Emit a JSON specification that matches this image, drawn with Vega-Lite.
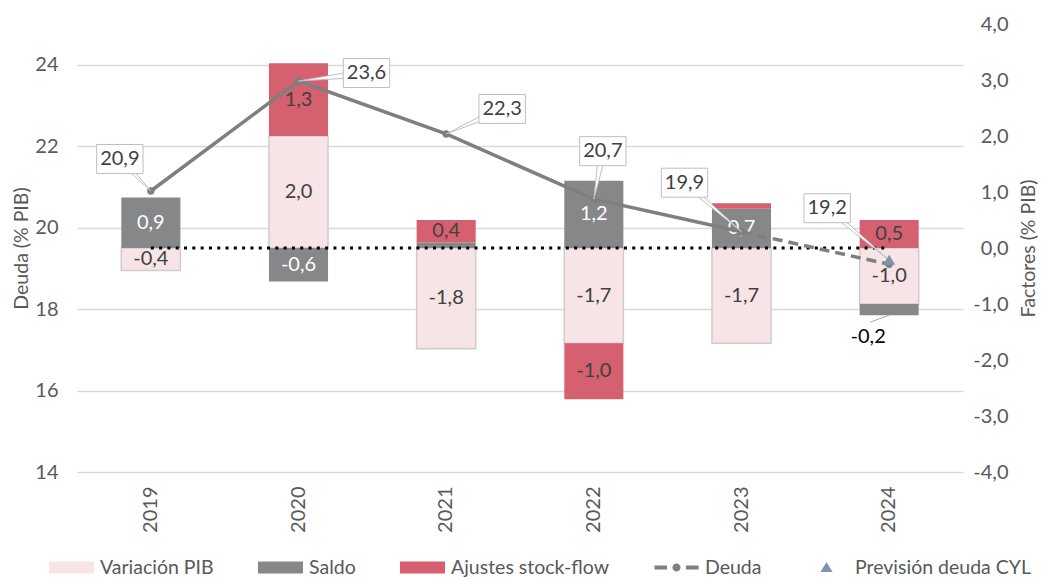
{
  "$schema": "https://vega.github.io/schema/vega-lite/v6.json",
  "width": 886,
  "height": 448,
  "autosize": "none",
  "padding": {"left": 77, "top": 24, "right": 81, "bottom": 105},
  "config": {
    "view": {"stroke": null},
    "font": "Lato",
    "axis": {"labelFont": "Lato", "labelFontSize": 20, "labelColor": "#595959", "titleFont": "Lato", "titleFontSize": 19.5, "titleFontWeight": "normal", "titleColor": "#595959", "domain": false, "ticks": false, "gridColor": "#d9d9d9", "gridWidth": 1.5},
    "legend": {"labelFont": "Lato", "labelFontSize": 19.5, "labelColor": "#595959"}
  },
  "datasets": {
    "factores": [
      {"anio": "2019", "serie": "Variación PIB", "valor": -0.4},
      {"anio": "2019", "serie": "Saldo", "valor": 0.9},
      {"anio": "2020", "serie": "Variación PIB", "valor": 2.0},
      {"anio": "2020", "serie": "Saldo", "valor": -0.6},
      {"anio": "2020", "serie": "Ajustes stock-flow", "valor": 1.3},
      {"anio": "2021", "serie": "Variación PIB", "valor": -1.8},
      {"anio": "2021", "serie": "Saldo", "valor": 0.1},
      {"anio": "2021", "serie": "Ajustes stock-flow", "valor": 0.4},
      {"anio": "2022", "serie": "Variación PIB", "valor": -1.7},
      {"anio": "2022", "serie": "Saldo", "valor": 1.2},
      {"anio": "2022", "serie": "Ajustes stock-flow", "valor": -1.0},
      {"anio": "2023", "serie": "Variación PIB", "valor": -1.7},
      {"anio": "2023", "serie": "Saldo", "valor": 0.7},
      {"anio": "2023", "serie": "Ajustes stock-flow", "valor": 0.1},
      {"anio": "2024", "serie": "Variación PIB", "valor": -1.0},
      {"anio": "2024", "serie": "Saldo", "valor": -0.2},
      {"anio": "2024", "serie": "Ajustes stock-flow", "valor": 0.5}
    ],
    "deuda": [
      {"anio": "2019", "deuda": 20.9},
      {"anio": "2020", "deuda": 23.6},
      {"anio": "2021", "deuda": 22.3},
      {"anio": "2022", "deuda": 20.7},
      {"anio": "2023", "deuda": 19.9},
      {"anio": "2024", "deuda": 19.1}
    ],
    "prevision": [
      {"anio": "2024", "serie": "Previsión deuda CYL", "deuda": 19.2}
    ],
    "cero": [
      {"anio": "2019", "cero": 0},
      {"anio": "2024", "cero": 0}
    ]
  },
  "encoding": {
    "x": {"field": "anio", "type": "ordinal", "scale": {"paddingInner": 0.6, "paddingOuter": 0.3}, "axis": {"title": null, "labelAngle": 270, "labelPadding": 14, "grid": false}}
  },
  "layer": [
    {
      "data": {"name": "factores"},
      "transform": [
        {"stack": "valor", "groupby": ["anio"], "sort": [{"field": "serie", "order": "descending"}], "as": ["v0", "v1"], "offset": "zero"},
        {"calculate": "(datum.v0 + datum.v1) / 2", "as": "medio"},
        {"calculate": "replace(replace(format(datum.valor, '.1f'), '.', ','), '\u2212', '-')", "as": "etiqueta"}
      ],
      "layer": [
        {
          "mark": {"type": "bar", "strokeWidth": 1.5},
          "encoding": {
            "y": {"field": "v0", "type": "quantitative", "scale": {"domain": [-4, 4], "nice": false, "zero": false},
              "axis": {"orient": "right", "values": [-4, -3, -2, -1, 0, 1, 2, 3, 4], "labelExpr": "replace(replace(format(datum.value, '.1f'), '.', ','), '\u2212', '-')", "grid": false, "labelAlign": "right", "labelPadding": 45, "title": "Factores (% PIB)", "titleAngle": 270, "titleBaseline": "top", "titlePadding": 11}},
            "y2": {"field": "v1"},
            "color": {"field": "serie", "type": "nominal",
              "scale": {"domain": ["Variación PIB", "Saldo", "Ajustes stock-flow", "Deuda", "Previsión deuda CYL"], "range": ["#f7e4e6", "#868788", "#d5606f", "#7f7f7f", "#8093ad"]},
              "legend": {"title": null, "orient": "none", "legendX": -29, "legendY": 520, "direction": "horizontal", "symbolSize": 2025, "columnPadding": 41, "labelOffset": 5, "labelLimit": 400,
                "encode": {"symbols": {"update": {"stroke": {"signal": "datum.value === 'Variación PIB' ? '#d2cbcc' : 'transparent'"}, "strokeWidth": {"value": 1.2}}}}}},
            "stroke": {"condition": {"test": "datum.serie === 'Variación PIB'", "value": "#d2cbcc"}, "value": "transparent"}
          }
        },
        {
          "data": {"name": "cero"},
          "mark": {"type": "line", "color": "black", "strokeWidth": 3, "strokeDash": [3, 5.3]},
          "encoding": {
            "y": {"field": "cero", "type": "quantitative"}
          }
        },
        {
          "transform": [{"filter": "abs(datum.valor) >= 0.3"}],
          "mark": {"type": "text", "fontSize": 20, "baseline": "middle"},
          "encoding": {
            "y": {"field": "medio", "type": "quantitative"},
            "text": {"field": "etiqueta"},
            "color": {"condition": {"test": "datum.serie === 'Saldo'", "value": "white"}, "value": "#404040"}
          }
        },
        {
          "transform": [{"filter": "abs(datum.valor) < 0.3 && datum.valor < 0"}],
          "layer": [
            {
              "mark": {"type": "point", "shape": "M0,0L-19,7", "size": 4, "filled": false, "stroke": "#a6a6a6", "strokeWidth": 1, "opacity": 1},
              "encoding": {
                "y": {"field": "v1", "type": "quantitative"}
              }
            },
            {
              "mark": {"type": "text", "fontSize": 20, "baseline": "middle", "color": "black", "xOffset": -21, "yOffset": 22},
              "encoding": {
                "y": {"field": "v1", "type": "quantitative"},
                "text": {"field": "etiqueta"}
              }
            }
          ]
        }
      ]
    },
    {
      "data": {"name": "deuda"},
      "transform": [
        {"calculate": "replace(format(datum.deuda, '.1f'), '.', ',')", "as": "etiqueta"}
      ],
      "layer": [
        {
          "transform": [{"filter": "datum.anio <= '2023'"}],
          "mark": {"type": "line", "color": "#7f7f7f", "strokeWidth": 3.5},
          "encoding": {
            "y": {"field": "deuda", "type": "quantitative", "scale": {"domain": [14, 25], "nice": false, "zero": false},
              "axis": {"orient": "left", "values": [14, 16, 18, 20, 22, 24], "grid": true, "labelPadding": 19, "title": "Deuda (% PIB)", "titlePadding": 3}}
          }
        },
        {
          "transform": [{"filter": "datum.anio >= '2023'"}],
          "mark": {"type": "line", "color": "#7f7f7f", "strokeWidth": 3.5, "strokeDash": [10, 6]},
          "encoding": {
            "y": {"field": "deuda", "type": "quantitative"}
          }
        },
        {
          "mark": {"type": "point", "shape": "circle", "size": 55, "filled": true, "color": "#7f7f7f", "opacity": 1},
          "encoding": {
            "y": {"field": "deuda", "type": "quantitative"}
          }
        },
        {
          "transform": [{"filter": "datum.anio === '2019'"}],
          "layer": [
            {"mark": {"type": "point", "shape": "M0,0L-35,-32L-27,-32Z", "size": 4, "filled": true, "fill": "white", "stroke": "#bfbfbf", "strokeWidth": 1, "opacity": 1},
             "encoding": {"y": {"field": "deuda", "type": "quantitative"}}},
            {"mark": {"type": "point", "shape": "M-1.6,-1H1.6V1H-1.6Z", "size": 841, "filled": true, "fill": "white", "stroke": "#bfbfbf", "strokeWidth": 1, "opacity": 1, "xOffset": -31, "yOffset": -32},
             "encoding": {"y": {"field": "deuda", "type": "quantitative"}}},
            {"mark": {"type": "text", "fontSize": 20, "color": "#404040", "baseline": "middle", "xOffset": -31, "yOffset": -32},
             "encoding": {"y": {"field": "deuda", "type": "quantitative"}, "text": {"field": "etiqueta"}}}
          ]
        },
        {
          "transform": [{"filter": "datum.anio === '2020'"}],
          "layer": [
            {"mark": {"type": "point", "shape": "M0,0L68,-12L68,-4Z", "size": 4, "filled": true, "fill": "white", "stroke": "#bfbfbf", "strokeWidth": 1, "opacity": 1},
             "encoding": {"y": {"field": "deuda", "type": "quantitative"}}},
            {"mark": {"type": "point", "shape": "M-1.6,-1H1.6V1H-1.6Z", "size": 841, "filled": true, "fill": "white", "stroke": "#bfbfbf", "strokeWidth": 1, "opacity": 1, "xOffset": 68, "yOffset": -8},
             "encoding": {"y": {"field": "deuda", "type": "quantitative"}}},
            {"mark": {"type": "text", "fontSize": 20, "color": "#404040", "baseline": "middle", "xOffset": 68, "yOffset": -8},
             "encoding": {"y": {"field": "deuda", "type": "quantitative"}, "text": {"field": "etiqueta"}}}
          ]
        },
        {
          "transform": [{"filter": "datum.anio === '2021'"}],
          "layer": [
            {"mark": {"type": "point", "shape": "M0,0L56,-29L56,-21Z", "size": 4, "filled": true, "fill": "white", "stroke": "#bfbfbf", "strokeWidth": 1, "opacity": 1},
             "encoding": {"y": {"field": "deuda", "type": "quantitative"}}},
            {"mark": {"type": "point", "shape": "M-1.6,-1H1.6V1H-1.6Z", "size": 841, "filled": true, "fill": "white", "stroke": "#bfbfbf", "strokeWidth": 1, "opacity": 1, "xOffset": 56, "yOffset": -25},
             "encoding": {"y": {"field": "deuda", "type": "quantitative"}}},
            {"mark": {"type": "text", "fontSize": 20, "color": "#404040", "baseline": "middle", "xOffset": 56, "yOffset": -25},
             "encoding": {"y": {"field": "deuda", "type": "quantitative"}, "text": {"field": "etiqueta"}}}
          ]
        },
        {
          "transform": [{"filter": "datum.anio === '2022'"}],
          "layer": [
            {"mark": {"type": "point", "shape": "M0,0L5,-48L13,-48Z", "size": 4, "filled": true, "fill": "white", "stroke": "#bfbfbf", "strokeWidth": 1, "opacity": 1},
             "encoding": {"y": {"field": "deuda", "type": "quantitative"}}},
            {"mark": {"type": "point", "shape": "M-1.6,-1H1.6V1H-1.6Z", "size": 841, "filled": true, "fill": "white", "stroke": "#bfbfbf", "strokeWidth": 1, "opacity": 1, "xOffset": 9, "yOffset": -48},
             "encoding": {"y": {"field": "deuda", "type": "quantitative"}}},
            {"mark": {"type": "text", "fontSize": 20, "color": "#404040", "baseline": "middle", "xOffset": 9, "yOffset": -48},
             "encoding": {"y": {"field": "deuda", "type": "quantitative"}, "text": {"field": "etiqueta"}}}
          ]
        },
        {
          "transform": [{"filter": "datum.anio === '2023'"}],
          "layer": [
            {"mark": {"type": "point", "shape": "M0,0L-61,-49L-53,-49Z", "size": 4, "filled": true, "fill": "white", "stroke": "#bfbfbf", "strokeWidth": 1, "opacity": 1},
             "encoding": {"y": {"field": "deuda", "type": "quantitative"}}},
            {"mark": {"type": "point", "shape": "M-1.6,-1H1.6V1H-1.6Z", "size": 841, "filled": true, "fill": "white", "stroke": "#bfbfbf", "strokeWidth": 1, "opacity": 1, "xOffset": -57, "yOffset": -49},
             "encoding": {"y": {"field": "deuda", "type": "quantitative"}}},
            {"mark": {"type": "text", "fontSize": 20, "color": "#404040", "baseline": "middle", "xOffset": -57, "yOffset": -49},
             "encoding": {"y": {"field": "deuda", "type": "quantitative"}, "text": {"field": "etiqueta"}}}
          ]
        },
        {
          "data": {"name": "prevision"},
          "transform": [
            {"calculate": "replace(format(datum.deuda, '.1f'), '.', ',')", "as": "etiqueta"}
          ],
          "layer": [
            {"mark": {"type": "point", "shape": "M0,0L-66,-52L-58,-52Z", "size": 4, "filled": true, "fill": "white", "stroke": "#bfbfbf", "strokeWidth": 1, "opacity": 1},
             "encoding": {"y": {"field": "deuda", "type": "quantitative"}}},
            {"mark": {"type": "point", "shape": "M-1.6,-1H1.6V1H-1.6Z", "size": 841, "filled": true, "fill": "white", "stroke": "#bfbfbf", "strokeWidth": 1, "opacity": 1, "xOffset": -62, "yOffset": -52},
             "encoding": {"y": {"field": "deuda", "type": "quantitative"}}},
            {"mark": {"type": "text", "fontSize": 20, "color": "#404040", "baseline": "middle", "xOffset": -62, "yOffset": -52},
             "encoding": {"y": {"field": "deuda", "type": "quantitative"}, "text": {"field": "etiqueta"}}},
            {"mark": {"type": "point", "filled": true, "opacity": 1, "size": 2025, "strokeWidth": 0},
             "encoding": {
               "y": {"field": "deuda", "type": "quantitative"},
               "color": {"field": "serie", "type": "nominal",
                 "scale": {"domain": ["Variación PIB", "Saldo", "Ajustes stock-flow", "Deuda", "Previsión deuda CYL"], "range": ["#f7e4e6", "#868788", "#d5606f", "#7f7f7f", "#8093ad"]}},
               "shape": {"field": "serie", "type": "nominal",
                 "scale": {"domain": ["Variación PIB", "Saldo", "Ajustes stock-flow", "Deuda", "Previsión deuda CYL"],
                   "range": ["M-1,-0.27H1V0.27H-1Z", "M-1,-0.27H1V0.27H-1Z", "M-1,-0.27H1V0.27H-1Z", "M-0.98,-0.09H-0.42V0.09H-0.98Z M0.42,-0.09H0.98V0.09H0.42Z M-0.18,0A0.18,0.18 0 1,1 0.18,0A0.18,0.18 0 1,1 -0.18,0Z", "M0,-0.24L0.27,0.2L-0.27,0.2Z"]},
                 "legend": {"title": null, "orient": "none", "legendX": -29, "legendY": 520, "direction": "horizontal", "symbolSize": 2025, "columnPadding": 41, "labelOffset": 5, "labelLimit": 400}}
             }}
          ]
        }
      ]
    }
  ],
  "resolve": {"scale": {"y": "independent"}}
}
